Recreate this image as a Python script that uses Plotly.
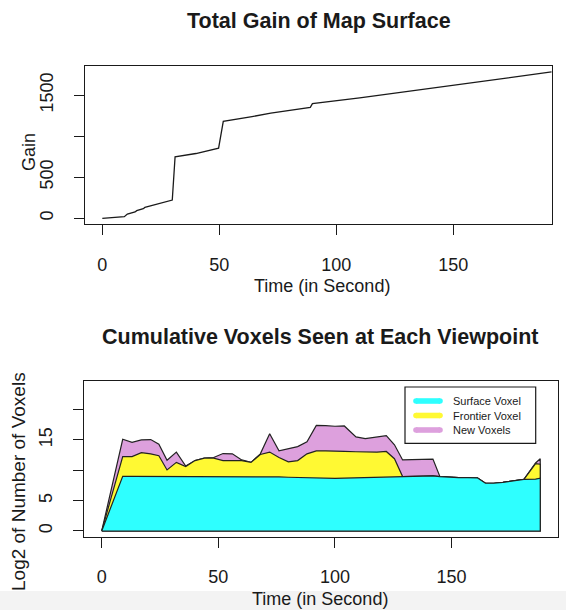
import numpy as np
import plotly.graph_objects as go

# ---------------- data ----------------
gain_time = [0, 9.4, 10.7, 14, 14.7, 17.5, 18.2, 22.2, 23.2, 26.8, 29.9, 31.1, 40, 49.7, 51.7,
             64, 72, 88.9, 89.8, 110, 126, 141.5, 165, 192]
gain_value = [0, 19, 52, 77, 93, 117, 133, 162, 178, 202, 223, 750, 790, 856, 1182,
              1240, 1282, 1353, 1398, 1468, 1530, 1595, 1688, 1785]

voxel_time = [0, 9, 13, 17, 21, 24.5, 28, 32, 36, 40, 44, 48, 52, 56, 60, 64, 68, 72, 76, 80,
              84, 88, 92, 96, 100, 104, 109, 113, 118, 122, 125.5, 129, 133, 137, 142, 145,
              149, 153, 157, 161, 164.5, 168, 172, 176, 181, 186, 188]
# cumulative tops (log2 scale)
surface_top = [0, 9.0, 9.0, 9.0, 9.0, 9.0, 9.0, 9.0, 9.0, 9.0, 9.0, 9.0, 9.0, 9.0, 9.0, 8.98,
               8.95, 8.93, 8.9, 8.85, 8.8, 8.75, 8.72, 8.7, 8.68, 8.7, 8.75, 8.78, 8.8, 8.85,
               8.9, 8.96, 9.0, 9.02, 9.06, 8.95, 8.85, 8.8, 8.8, 8.75, 7.86, 7.86, 8.0, 8.2,
               8.5, 8.55, 8.68]
frontier_top = [0, 12.25, 12.25, 12.9, 12.7, 12.4, 10.05, 11.3, 10.6, 11.6, 12.0, 12.0, 11.6,
                11.6, 11.6, 11.3, 12.6, 13.0, 12.1, 11.4, 11.6, 12.7, 13.2, 13.2, 13.1, 13.1,
                13.05, 13.0, 13.0, 13.1, 11.9, 8.96, 9.0, 9.02, 9.06, 8.95, 8.85, 8.8, 8.8,
                8.75, 7.86, 7.86, 8.0, 8.2, 8.5, 11.1, 11.0]
new_top = [0, 15.1, 14.6, 15.0, 15.05, 14.3, 11.65, 13.0, 10.7, 11.6, 12.0, 12.1, 12.75, 12.7,
           11.7, 11.3, 12.7, 16.0, 13.2, 13.5, 13.9, 14.7, 17.4, 17.35, 17.25, 17.3, 15.5, 15.2,
           15.5, 15.7, 14.2, 11.7, 11.75, 11.8, 11.85, 8.95, 8.85, 8.8, 8.8, 8.75, 7.86, 7.86,
           8.0, 8.2, 8.5, 11.2, 11.9]
series_names = ["Surface Voxel", "Frontier Voxel", "New Voxels"]
series_colors = ["#2EFFFF", "#FFF933", "#DDA0DD"]

x_ticks = [0, 50, 100, 150]
gain_ticks = [0, 500, 1000, 1500]
gain_ticktext = ["0", "500", "", "1500"]
voxel_ticks = [0, 5, 10, 15, 20]
voxel_ticktext = ["0", "5", "", "15", ""]

# ---------------- figure ----------------
W, H = 566, 610
FONT = "Liberation Sans, Arial, Helvetica, sans-serif"
INK = "#1a1a1a"

def px(x):
    return x / W

def py(y):
    return (H - y) / H

fig = go.Figure()

fig.add_trace(go.Scatter(x=gain_time, y=gain_value, mode="lines",
                         line=dict(color=INK, width=1.3), showlegend=False,
                         xaxis="x", yaxis="y", hoverinfo="skip"))

t = np.array(voxel_time, dtype=float)
for top, name, col in [(new_top, series_names[2], series_colors[2]),
                       (frontier_top, series_names[1], series_colors[1]),
                       (surface_top, series_names[0], series_colors[0])]:
    xs = np.concatenate([t, t[::-1]])
    ys = np.concatenate([np.array(top, dtype=float), np.zeros(len(t))])
    fig.add_trace(go.Scatter(x=xs, y=ys, mode="lines", fill="toself", fillcolor=col,
                             line=dict(color="#222222", width=1.2), name=name,
                             showlegend=False, xaxis="x2", yaxis="y2", hoverinfo="skip"))

axis_common = dict(showline=True, mirror=True, linecolor=INK, linewidth=1,
                   ticks="outside", ticklen=10, tickcolor=INK, tickwidth=1,
                   showgrid=False, zeroline=False, automargin=False,
                   tickfont=dict(family=FONT, size=18, color=INK))

# panel boxes (pixels)
top_box = dict(l=85, r=552, t=66, b=224)
bot_box = dict(l=84, r=557.5, t=381, b=536.7)

fig.update_layout(
    width=W, height=H,
    margin=dict(l=0, r=0, t=0, b=0, autoexpand=False),
    paper_bgcolor="white", plot_bgcolor="white",
    showlegend=False,
    xaxis=dict(domain=[px(top_box["l"]), px(top_box["r"])], range=[-7.4, 192.2],
               tickvals=x_ticks, anchor="y", ticklabelstandoff=14, **axis_common),
    yaxis=dict(domain=[py(top_box["b"]), py(top_box["t"])], range=[-69.5, 1857],
               tickvals=gain_ticks, ticktext=gain_ticktext, tickangle=-90, anchor="x",
               ticklabelstandoff=14, **axis_common),
    xaxis2=dict(domain=[px(bot_box["l"]), px(bot_box["r"])], range=[-7.6, 195.4],
                tickvals=x_ticks, anchor="y2", ticklabelstandoff=14, **axis_common),
    yaxis2=dict(domain=[py(bot_box["b"]), py(bot_box["t"])], range=[-0.94, 24.7],
                tickvals=voxel_ticks, ticktext=voxel_ticktext, tickangle=-90, anchor="x2",
                ticklabelstandoff=14, **axis_common),
)

ann = []
def text(x, y, s, size, bold=False, angle=0):
    ann.append(dict(x=px(x), y=py(y), xref="paper", yref="paper", text=("<b>%s</b>" % s) if bold else s,
                    showarrow=False, xanchor="center", yanchor="middle", textangle=angle,
                    font=dict(family=FONT, size=size, color=INK)))

text(318.5, 21, "Total Gain of Map Surface", 21.5, bold=True)
text(322, 286, "Time (in Second)", 18)
text(29, 152, "Gain", 18, angle=-90)
text(320, 337, "Cumulative Voxels Seen at Each Viewpoint", 21.5, bold=True)
text(320, 599, "Time (in Second)", 18)
text(19, 482, "Log2 of Number of Voxels", 19, angle=-90)

# manual legend
leg_l, leg_r, leg_t, leg_b = 405, 535.7, 387, 443.3
shapes = [dict(type="rect", xref="paper", yref="paper", x0=px(leg_l), x1=px(leg_r),
               y0=py(leg_b), y1=py(leg_t), line=dict(color=INK, width=1.2),
               fillcolor="white", layer="above")]
rows = [401, 415.5, 430]
for yy, name, col in zip(rows, series_names, series_colors):
    x0, x1, r = 416, 440, 2.8
    shapes.append(dict(type="line", xref="paper", yref="paper", x0=px(x0), x1=px(x1),
                       y0=py(yy), y1=py(yy), line=dict(color=col, width=5.6), layer="above"))
    for cx in (x0, x1):
        shapes.append(dict(type="circle", xref="paper", yref="paper",
                           x0=px(cx - r), x1=px(cx + r), y0=py(yy + r), y1=py(yy - r),
                           fillcolor=col, line=dict(width=0), layer="above"))
    ann.append(dict(x=px(451), y=py(yy), xref="paper", yref="paper", text=name,
                    showarrow=False, xanchor="left", yanchor="middle",
                    font=dict(family=FONT, size=11, color=INK)))

# light grey strip at bottom of the screenshot
shapes.append(dict(type="rect", xref="paper", yref="paper", x0=0, x1=1, y0=0, y1=py(591),
                   fillcolor="#F3F3F3", line=dict(width=0), layer="below"))

fig.update_layout(annotations=ann, shapes=shapes)
fig.write_html("out.html", config={"displayModeBar": False},
               post_script="document.body.style.margin='0';document.body.style.overflow='hidden';")
